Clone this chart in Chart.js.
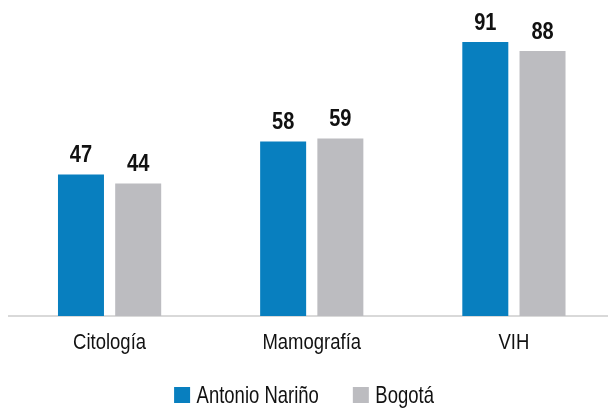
<!DOCTYPE html>
<html lang="es">
<head>
    <meta charset="UTF-8">
    <title>Citología, Mamografía, VIH</title>
    <style>
        html, body { margin: 0; padding: 0; background: #fff; overflow: hidden; }
        #wrap { position: absolute; left: 0; top: 0; width: 615px; height: 409px; }
    </style>
    <script src="https://cdn.jsdelivr.net/npm/chart.js"></script>
</head>
<body>
    <div id="wrap"><canvas id="chart"></canvas></div>
    <script>
        // datos
        const categories = ['Citología', 'Mamografía', 'VIH'];
        const antonioNarino = [47, 58, 91];
        const bogota = [44, 59, 88];
        const seriesNames = ['Antonio Nariño', 'Bogotá'];
        const seriesColors = ['#087fbf', '#bcbcc0'];

        const fontFamily = "'Liberation Sans', Arial, sans-serif";
        const textColor = '#111';

        // texto estrecho (la fuente original es condensada)
        function narrowText(ctx, text, x, y, font, sx, align) {
            ctx.save();
            ctx.font = font;
            const w = ctx.measureText(text).width * sx;
            let left = x;
            if (align === 'center') left = x - w / 2;
            ctx.translate(left, y);
            ctx.scale(sx, 1);
            ctx.textAlign = 'left';
            ctx.textBaseline = 'alphabetic';
            ctx.fillStyle = textColor;
            ctx.fillText(text, 0, 0);
            ctx.restore();
            return w;
        }

        function narrowWidth(ctx, text, font, sx) {
            ctx.save();
            ctx.font = font;
            const w = ctx.measureText(text).width * sx;
            ctx.restore();
            return w;
        }

        const customText = {
            id: 'customText',
            afterDatasetsDraw(chart) {
                const ctx = chart.ctx;
                const xScale = chart.scales.x;

                // valores encima de las barras
                chart.data.datasets.forEach((ds, i) => {
                    chart.getDatasetMeta(i).data.forEach((bar, j) => {
                        narrowText(ctx, String(ds.data[j]), bar.x, bar.y - 12.5,
                            'bold 23px ' + fontFamily, 0.87, 'center');
                    });
                });

                // etiquetas del eje x
                categories.forEach((c, i) => {
                    narrowText(ctx, c, xScale.getPixelForValue(i), 348.5,
                        '22px ' + fontFamily, 0.84, 'center');
                });

                // leyenda
                const lf = '24px ' + fontFamily, ls = 0.77;
                const box = 16, gapBox = 6.5, gapItem = 34;
                const widths = chart.data.datasets.map(ds => narrowWidth(ctx, ds.label, lf, ls));
                let total = 0;
                widths.forEach((w, i) => { total += box + gapBox + w + (i ? gapItem : 0); });
                let x = 304 - total / 2;
                chart.data.datasets.forEach((ds, i) => {
                    ctx.fillStyle = ds.backgroundColor;
                    ctx.fillRect(x, 387, box, box);
                    narrowText(ctx, ds.label, x + box + gapBox, 403, lf, ls, 'left');
                    x += box + gapBox + widths[i] + gapItem;
                });
            }
        };

        new Chart(document.getElementById('chart'), {
            type: 'bar',
            data: {
                labels: categories,
                datasets: [{
                    label: seriesNames[0],
                    data: antonioNarino,
                    backgroundColor: seriesColors[0]
                }, {
                    label: seriesNames[1],
                    data: bogota,
                    backgroundColor: seriesColors[1]
                }]
            },
            options: {
                responsive: true,
                maintainAspectRatio: false,
                animation: false,
                categoryPercentage: 0.566,
                barPercentage: 0.804,
                layout: { padding: { left: 8.5, right: 0, top: 15, bottom: 0 } },
                scales: {
                    x: {
                        grid: { display: false },
                        border: { color: '#d9d9d9', width: 2 },
                        ticks: { display: false },
                        afterFit(scale) { scale.height = 93; }
                    },
                    y: {
                        display: false,
                        min: 0,
                        max: 100
                    }
                },
                plugins: {
                    tooltip: { enabled: false },
                    legend: { display: false }
                }
            },
            plugins: [customText]
        });
    </script>
</body>
</html>
